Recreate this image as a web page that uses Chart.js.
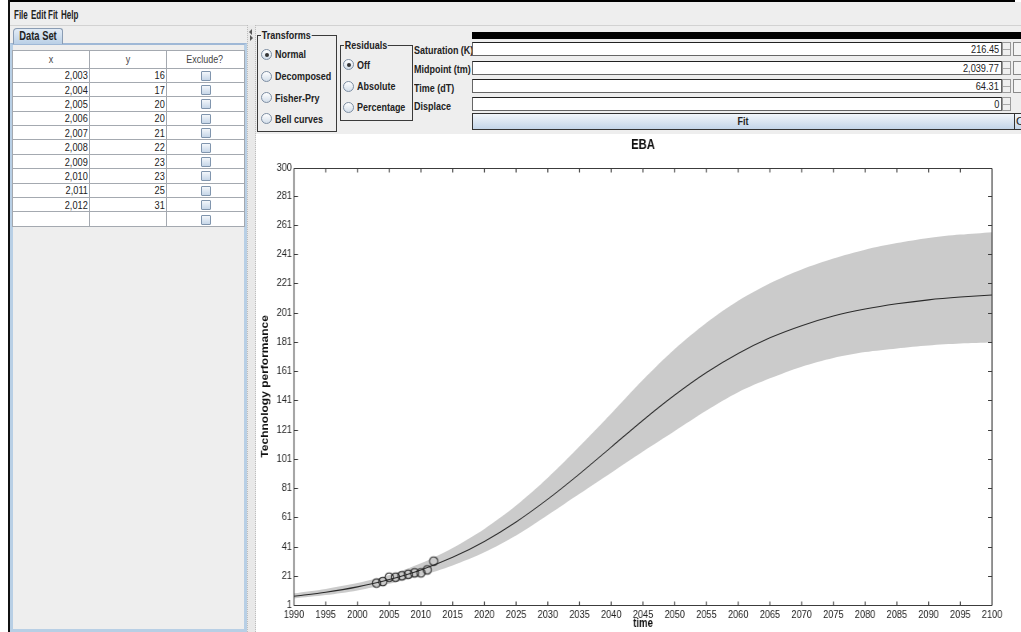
<!DOCTYPE html>
<html>
<head>
<meta charset="utf-8">
<title>EBA</title>
<script src="https://cdn.jsdelivr.net/npm/chart.js@4.4.1/dist/chart.umd.min.js"></script>
<style>
  * { box-sizing: border-box; }
  html, body { margin: 0; padding: 0; width: 1021px; height: 632px; overflow: hidden; background: #fff; }
  body { position: relative; font-family: 'Liberation Sans', Arial, sans-serif; font-size: 11.5px; color: #222; }
  .a { position: absolute; }
  .t { position: absolute; white-space: nowrap; line-height: 14px; height: 14px; transform: scaleX(0.78); transform-origin: 0 50%; }
  .b { font-weight: bold; }
  .sq  { display: inline-block; transform: scaleX(0.8); transform-origin: 100% 50%; }
  .sqc { display: inline-block; transform: scaleX(0.78); transform-origin: 50% 50%; }
  #app { left: 10px; top: 2px; width: 1011px; height: 630px; background: #eeeeee; }
  #frameTop { left: 8px; top: 0; width: 1007px; height: 2px; background: #000; }
  #frameLeft { left: 8px; top: 0; width: 2px; height: 632px; background: #111; }
  #menuLine { left: 10px; top: 25px; width: 1011px; height: 1px; background: #d2d2d2; }
  .menu { font-size: 12.5px; transform: scaleX(0.64); }
  #tab { left: 13px; top: 28px; width: 50px; height: 16px; border: 1px solid #8a9cb3; border-bottom: none;
         border-radius: 4px 3px 0 0; background: linear-gradient(#e3ecf6, #b9cfe6); font-weight: bold;
         text-align: center; line-height: 15px; white-space: nowrap; font-size: 12px; }
  #leftPanel { left: 10px; top: 43px; width: 237px; height: 589px; background: #eeeeee;
               border: 3px solid #b8cfe5; border-top: 2px solid #9fb8d6; }
  #grid { left: 12px; top: 50px; border-collapse: collapse; table-layout: fixed; background: #fff; }
  #grid td, #grid th { border: 1px solid #a4a9b0; padding: 0 1px 0 0; font-weight: normal; overflow: hidden; white-space: nowrap; }
  #grid th { height: 17.5px; text-align: center; color: #444; background: #fff; }
  #grid td { height: 14.4px; line-height: 12px; text-align: right; }
  #grid td.cb { text-align: center; padding: 0; }
  .chk { display: inline-block; width: 10px; height: 10px; border: 1px solid #8095ad; border-radius: 1px;
         background: linear-gradient(#f3f7fb, #c6d6e8); vertical-align: middle; margin-top: -1px; }
  #divider { left: 247px; top: 25px; width: 9px; height: 607px; background: #e9e9e9;
             border-left: 1px dotted #bdbdbd; border-right: 1px dotted #bdbdbd; }
  .tri { width: 0; height: 0; border-top: 3px solid transparent; border-bottom: 3px solid transparent; }
  .box { border: 1px solid #3a3a3a; }
  .ttl { background: #eeeeee; padding: 0 1px; font-weight: bold; }
  .radio { width: 11px; height: 11px; border-radius: 50%; border: 1px solid #7d8ea3;
           background: linear-gradient(#ffffff, #d3deea); }
  .radio.on::after { content: ''; position: absolute; left: 2.5px; top: 2.5px; width: 4px; height: 4px; border-radius: 50%; background: #333; }
  .field { height: 14px; width: 530px; left: 472px; background: #fff; border: 1px solid #666; border-top-color: #222;
           text-align: right; padding-right: 2px; line-height: 12px; white-space: nowrap; }
  .spin { left: 1002px; width: 9px; height: 14px; border: 1px solid #9a9a9a; background: #f0f0f0; }
  .spin::before { content: ''; position: absolute; left: 0; right: 0; top: 5.5px; height: 1px; background: #aaa; }
  .tail { left: 1013px; width: 9px; height: 14px; border: 1px solid #8a8a8a; background: #f4f4f4; }
  #fit { left: 472px; top: 113px; width: 543px; height: 17px; border: 1px solid #333;
         background: linear-gradient(#f2f6fb, #c3d5e9); text-align: center; line-height: 15px; font-weight: bold; }
  #fitNext { left: 1014px; top: 113px; width: 8px; height: 17px; border: 1px solid #333; border-right: none;
             background: linear-gradient(#f2f6fb, #c3d5e9); overflow: hidden; line-height: 15px; padding-left: 1px; }
  #chartPanel { left: 256px; top: 134px; width: 765px; height: 498px; background: #fff; overflow: hidden; }
  /* the plot is laid out 1.25x wider and drawn condensed to the panel width */
  #chartBox { position: absolute; left: 0; top: 0; width: 956.25px; height: 498px; transform: scaleX(0.8); transform-origin: 0 0; }
</style>
</head>
<body>
<div id="app" class="a"></div>
<div id="frameTop" class="a"></div>
<div id="frameLeft" class="a"></div>

<!-- menu bar -->
<div class="t b menu" style="left:14px;top:8px">File</div>
<div class="t b menu" style="left:31px;top:8px">Edit</div>
<div class="t b menu" style="left:48px;top:8px">Fit</div>
<div class="t b menu" style="left:61px;top:8px">Help</div>
<div id="menuLine" class="a"></div>

<!-- data set panel -->
<div id="leftPanel" class="a"></div>
<div id="tab" class="a"><span class="sqc">Data Set</span></div>
<table id="grid" class="a">
  <colgroup><col style="width:77px"><col style="width:77px"><col style="width:78px"></colgroup>
  <thead><tr><th><span class="sqc">x</span></th><th><span class="sqc">y</span></th><th><span class="sqc">Exclude?</span></th></tr></thead>
  <tbody id="rows"></tbody>
</table>

<div id="divider" class="a"></div>
<div class="a tri" style="left:249px;top:29px;border-right:3px solid #555"></div>
<div class="a tri" style="left:250px;top:35px;border-left:3px solid #555"></div>

<!-- transforms -->
<div class="a box" style="left:257px;top:35px;width:80px;height:97px"></div>
<div class="t ttl" style="left:261px;top:28px">Transforms</div>
<div class="a radio on" style="left:261px;top:49px"></div><div class="t b" style="left:275px;top:47px">Normal</div>
<div class="a radio" style="left:261px;top:71px"></div><div class="t b" style="left:275px;top:69px">Decomposed</div>
<div class="a radio" style="left:261px;top:92px"></div><div class="t b" style="left:275px;top:91px">Fisher-Pry</div>
<div class="a radio" style="left:261px;top:113px"></div><div class="t b" style="left:275px;top:112px">Bell curves</div>

<!-- residuals -->
<div class="a box" style="left:340px;top:45px;width:73px;height:76px"></div>
<div class="t ttl" style="left:344px;top:38px">Residuals</div>
<div class="a radio on" style="left:343px;top:59px"></div><div class="t b" style="left:357px;top:58px">Off</div>
<div class="a radio" style="left:343px;top:81px"></div><div class="t b" style="left:357px;top:79px">Absolute</div>
<div class="a radio" style="left:343px;top:102px"></div><div class="t b" style="left:357px;top:100px">Percentage</div>

<!-- parameters -->
<div class="t b" style="left:414px;top:43px">Saturation (K)</div>
<div class="t b" style="left:414px;top:62px">Midpoint (tm)</div>
<div class="t b" style="left:414px;top:81px">Time (dT)</div>
<div class="t b" style="left:414px;top:99px">Displace</div>
<div class="a" style="left:472px;top:32px;width:549px;height:7px;background:#000"></div>
<div class="a field" style="top:42px"><span id="fK" class="sq"></span></div><div class="a spin" style="top:42px"></div><div class="a tail" style="top:42px"></div>
<div class="a field" style="top:61px"><span id="fTm" class="sq"></span></div><div class="a spin" style="top:61px"></div><div class="a tail" style="top:61px"></div>
<div class="a field" style="top:79px"><span id="fDt" class="sq"></span></div><div class="a spin" style="top:79px"></div><div class="a tail" style="top:79px"></div>
<div class="a field" style="top:97px"><span id="fD" class="sq"></span></div><div class="a spin" style="top:97px"></div>
<div id="fit" class="a"><span class="sqc">Fit</span></div>
<div id="fitNext" class="a">C</div>

<!-- chart -->
<div id="chartPanel" class="a"><div id="chartBox"><canvas id="c"></canvas></div></div>

<script>
// Logistic fit parameters shown in the parameter fields
const saturationK = 216.45;
const midpointTm = 2039.77;
const timeDt = 64.31;
const displace = 0;

// Observed data set
const obsYears  = [2003, 2004, 2005, 2006, 2007, 2008, 2009, 2010, 2011, 2012];
const obsValues = [16, 17, 20, 20, 21, 22, 23, 23, 25, 31];

// Fitted curve and its confidence band, sampled every five years
const curveYears = [1990, 1995, 2000, 2005, 2010, 2015, 2020, 2025, 2030, 2035, 2040, 2045,
                    2050, 2055, 2060, 2065, 2070, 2075, 2080, 2085, 2090, 2095, 2100];
const fitValues  = [7, 9.7, 13.4, 18.4, 25, 33.6, 44.5, 57.8, 73.4, 90.7, 109, 127.4,
                    144.6, 160, 173, 183.7, 192, 198.6, 203.4, 207, 209.7, 211.6, 213];
const upperBand  = [9, 12, 16, 21.5, 29.5, 40, 53, 69, 88, 109.5, 132, 155,
                    176, 194, 209, 221, 230.5, 238, 244, 248.5, 252, 254.3, 256];
const lowerBand  = [5.5, 7.8, 11, 15.5, 21, 28, 37, 48.5, 62.5, 77, 91.5, 106,
                    120, 134, 146.5, 156, 164, 170, 174, 176.5, 178.5, 179.8, 180.5];

// Axis ticks
const yTickValues = [1, 21, 41, 61, 81, 101, 121, 141, 161, 181, 201, 221, 241, 261, 281, 300];
const xMin = 1990, xMax = 2100, xStep = 5;

// horizontal condensing applied to the plot box (see #chartBox)
const SQUEEZE = 0.8;

const fmt2 = v => v.toLocaleString('en-US', { minimumFractionDigits: 2, maximumFractionDigits: 2 });
document.getElementById('fK').textContent = fmt2(saturationK);
document.getElementById('fTm').textContent = fmt2(midpointTm);
document.getElementById('fDt').textContent = fmt2(timeDt);
document.getElementById('fD').textContent = String(displace);

// data table rows (plus one empty row for entry)
const tbody = document.getElementById('rows');
obsYears.forEach((yr, i) => {
  const tr = document.createElement('tr');
  tr.innerHTML = '<td><span class="sq">' + yr.toLocaleString('en-US') + '</span></td><td><span class="sq">' +
                 obsValues[i] + '</span></td><td class="cb"><span class="chk"></span></td>';
  tbody.appendChild(tr);
});
const blank = document.createElement('tr');
blank.innerHTML = '<td></td><td></td><td class="cb"><span class="chk"></span></td>';
tbody.appendChild(blank);

const pairs = (xs, ys) => xs.map((x, i) => ({ x: x, y: ys[i] }));
const FONT = "'Liberation Sans', Arial, sans-serif";

// hollow marker, pre-stretched so it looks round once the box is condensed
function ringMarker(r) {
  const rx = r / SQUEEZE, ry = r;
  const cv = document.createElement('canvas');
  cv.width = Math.ceil(rx * 2 + 4);
  cv.height = Math.ceil(ry * 2 + 4);
  const g = cv.getContext('2d');
  g.strokeStyle = '#222';
  g.lineWidth = 1.1;
  g.beginPath();
  g.ellipse(cv.width / 2, cv.height / 2, rx, ry, 0, 0, Math.PI * 2);
  g.stroke();
  return cv;
}

// closed frame with inward tick marks on all four sides
const frameTicks = {
  id: 'frameTicks',
  afterDatasetsDraw(chart) {
    const { ctx, chartArea: a, scales: { x, y } } = chart;
    const L = a.left, R = a.right;
    const T = Math.round(a.top) + 0.5, B = Math.round(a.bottom) + 0.5;
    const tx = 4 / SQUEEZE;
    ctx.save();
    ctx.strokeStyle = '#3c3c3c';
    // horizontal strokes
    ctx.lineWidth = 1;
    ctx.beginPath();
    ctx.moveTo(L, T); ctx.lineTo(R, T);
    ctx.moveTo(L, B); ctx.lineTo(R, B);
    y.ticks.forEach(t => {
      const py = Math.round(y.getPixelForValue(t.value)) + 0.5;
      ctx.moveTo(L, py); ctx.lineTo(L + tx, py);
      ctx.moveTo(R, py); ctx.lineTo(R - tx, py);
    });
    ctx.stroke();
    // vertical strokes
    ctx.lineWidth = 1 / SQUEEZE;
    ctx.beginPath();
    ctx.moveTo(L, T); ctx.lineTo(L, B);
    ctx.moveTo(R, T); ctx.lineTo(R, B);
    x.ticks.forEach(t => {
      const px = x.getPixelForValue(t.value);
      ctx.moveTo(px, B); ctx.lineTo(px, B - 4);
      ctx.moveTo(px, T); ctx.lineTo(px, T + 4);
    });
    ctx.stroke();
    ctx.restore();
  }
};

new Chart(document.getElementById('c'), {
  type: 'line',
  data: {
    datasets: [
      { label: 'upper', data: pairs(curveYears, upperBand), fill: '+1', backgroundColor: '#cbcbcb',
        borderWidth: 0, pointRadius: 0, tension: 0.3, order: 3 },
      { label: 'lower', data: pairs(curveYears, lowerBand), fill: false, backgroundColor: '#cbcbcb',
        borderWidth: 0, pointRadius: 0, tension: 0.3, order: 3 },
      { label: 'fit', data: pairs(curveYears, fitValues), fill: false, borderColor: '#2a2a2a',
        borderWidth: 1.1, pointRadius: 0, tension: 0.3, order: 2 },
      { label: 'data', data: pairs(obsYears, obsValues), showLine: false, pointStyle: ringMarker(4.2),
        pointRadius: 5, order: 1 }
    ]
  },
  options: {
    responsive: true,
    maintainAspectRatio: false,
    animation: false,
    events: [],
    layout: { padding: { left: 0, right: 36.25, top: 0, bottom: 0 } },
    plugins: {
      legend: { display: false },
      tooltip: { enabled: false },
      title: { display: true, fullSize: false, text: 'EBA', color: '#111',
               font: { family: FONT, size: 14, weight: 'bold' }, padding: { top: 3, bottom: 14 } }
    },
    scales: {
      x: {
        type: 'linear', min: xMin, max: xMax,
        grid: { display: false, drawTicks: false, tickLength: 0 },
        border: { display: false },
        ticks: { stepSize: xStep, autoSkip: false, maxRotation: 0, padding: 3, color: '#222',
                 font: { family: FONT, size: 11.5 }, callback: v => String(v) },
        title: { display: true, text: 'time', color: '#111', font: { family: FONT, size: 12, weight: 'bold' },
                 padding: { top: 0, bottom: 1 } },
        afterFit(s) { s.height = 27; }
      },
      y: {
        type: 'linear', min: 1, max: 300,
        afterBuildTicks(s) { s.ticks = yTickValues.map(v => ({ value: v })); },
        grid: { display: false, drawTicks: false, tickLength: 0 },
        border: { display: false },
        ticks: { padding: 2.5, color: '#222', font: { family: FONT, size: 11.5 }, callback: v => String(v) },
        title: { display: true, text: 'Technology performance', color: '#111',
                 font: { family: FONT, size: 12, weight: 'bold' }, padding: { top: 4, bottom: 0 } },
        afterFit(s) { s.width = 47.5; }
      }
    }
  },
  plugins: [frameTicks]
});
</script>
</body>
</html>
